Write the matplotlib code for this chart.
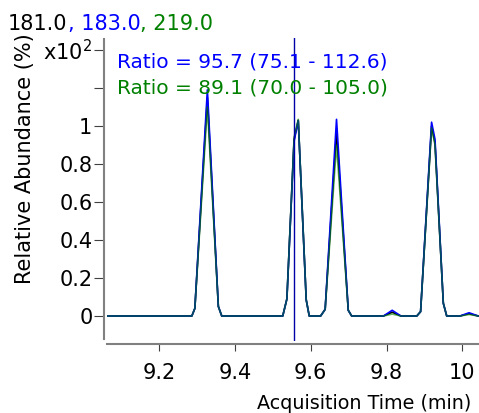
import matplotlib
matplotlib.use("Agg")
import matplotlib.pyplot as plt

# acquisition time (min) of the trace vertices
times = [9.062, 9.286, 9.294, 9.327, 9.356, 9.365,
         9.526, 9.537, 9.556, 9.567, 9.588, 9.596,
         9.626, 9.638, 9.668, 9.699, 9.708,
         9.792, 9.815, 9.838,
         9.880, 9.890, 9.919, 9.928, 9.950, 9.959,
         9.994, 10.018, 10.042]

# relative abundance (x10^2 %)
ion_181 = [0, 0, 0.04, 1.15, 0.05, 0,
           0, 0.09, 0.93, 1.03, 0.085, 0,
           0, 0.035, 0.97, 0.03, 0,
           0, 0.02, 0,
           0, 0.023, 1.0, 0.91, 0.067, 0,
           0, 0.012, 0]
ion_183 = [0, 0, 0.04, 1.19, 0.05, 0,
           0, 0.09, 0.92, 1.028, 0.085, 0,
           0, 0.035, 1.035, 0.03, 0,
           0, 0.03, 0,
           0, 0.023, 1.02, 0.93, 0.067, 0,
           0, 0.017, 0]
ion_219 = [0, 0, 0.04, 1.10, 0.05, 0,
           0, 0.09, 0.94, 1.035, 0.085, 0,
           0, 0.035, 0.90, 0.03, 0,
           0, 0.01, 0,
           0, 0.023, 0.99, 0.90, 0.067, 0,
           0, 0.008, 0]

cursor_time = 9.557
y_ticks = [0, 0.2, 0.4, 0.6, 0.8, 1.0, 1.2, 1.4]
y_labels = ["0", "0.2", "0.4", "0.6", "0.8", "1", "", "x10$^{2}$"]
x_ticks = [9.2, 9.4, 9.6, 9.8, 10.0]
x_labels = ["9.2", "9.4", "9.6", "9.8", "10"]

BLUE = "#0000ff"
GREEN = "#008000"
FS = 15

fig = plt.figure(figsize=(4.79, 4.13), dpi=100)
ax = fig.add_axes([107 / 479, 1 - 341 / 413, 1 - 107 / 479, 303 / 413])

ax.plot(times, ion_181, color="black", lw=1.2)
ax.plot(times, ion_183, color=BLUE, lw=1.2)
ax.plot(times, ion_219, color=GREEN, lw=1.2, alpha=0.6)
ax.axvline(cursor_time, color="#0000a8", lw=1.0)

ax.set_xlim(9.062, 10.0442)
ax.set_ylim(-0.1316, 1.463)

for s in ["top", "right"]:
    ax.spines[s].set_visible(False)
ax.spines["left"].set_position(("outward", 2))
ax.spines["bottom"].set_position(("outward", 2))
ax.spines["left"].set_bounds(-0.121, 1.458)
for s in ["left", "bottom"]:
    ax.spines[s].set_color("#808080")
    ax.spines[s].set_linewidth(1.5)

ax.set_yticks(y_ticks)
ax.set_yticklabels(y_labels)
ax.set_xticks(x_ticks)
ax.set_xticklabels(x_labels)
ax.tick_params(axis="y", length=7.5, width=0.8, color="#404040", pad=1, labelsize=FS)
ax.tick_params(axis="x", length=5, width=0.8, color="#404040", pad=9, labelsize=FS)

# title in three colours
t1 = fig.text(8 / 479, 1 - 30 / 413, "181.0", fontsize=FS, color="black", va="baseline")
t2 = ax.annotate(", 183.0", xy=(1, 0), xycoords=t1, va="bottom", fontsize=FS, color=BLUE)
ax.annotate(", 219.0", xy=(1, 0), xycoords=t2, va="bottom", fontsize=FS, color=GREEN)

fig.text(117 / 479, 1 - 68 / 413, "Ratio = 95.7 (75.1 - 112.6)", fontsize=14.5, color=BLUE, va="baseline")
fig.text(117 / 479, 1 - 93 / 413, "Ratio = 89.1 (70.0 - 105.0)", fontsize=14.5, color=GREEN, va="baseline")

fig.text(25 / 479, 1 - 159 / 413, "Relative Abundance (%)", fontsize=FS, rotation=90,
         ha="center", va="center")
fig.text(257 / 479, 1 - 409 / 413, "Acquisition Time (min)", fontsize=13.8, va="baseline")

fig.savefig("out.png", dpi=100)
